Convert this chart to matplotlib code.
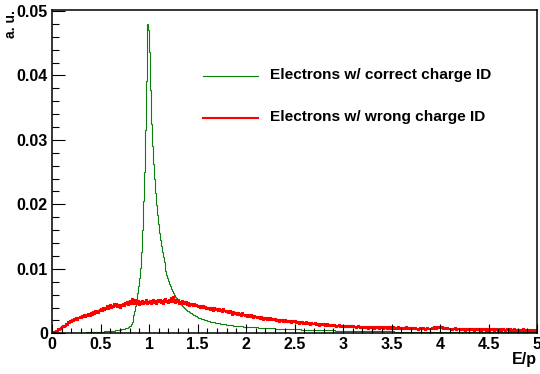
import numpy as np
import matplotlib
matplotlib.use("Agg")
import matplotlib.pyplot as plt
from matplotlib.ticker import MultipleLocator, FuncFormatter

# E/p histograms, 500 bins of width 0.01 from 0 to 5; contents in units of 1e-4
bin_edges = np.linspace(0.0, 5.0, 501)

correct_id = [
    0, 0, 0, 0, 0, 0.1, 0.1, 0.1, 0.1, 0.2,
    0.2, 0.2, 0.3, 0.3, 0.3, 0.4, 0.4, 0.4, 0.5, 0.5,
    0.5, 0.6, 0.6, 0.7, 0.7, 0.8, 0.8, 0.9, 0.9, 1.0,
    1.0, 1.1, 1.1, 1.2, 1.2, 1.3, 1.3, 1.4, 1.5, 1.5,
    1.6, 1.7, 1.7, 1.8, 1.9, 2.0, 2.0, 2.1, 2.2, 2.3,
    2.4, 2.5, 2.6, 2.7, 2.8, 2.9, 3.0, 3.1, 3.3, 3.4,
    3.5, 3.7, 3.8, 4.0, 4.2, 4.4, 4.6, 4.8, 5.0, 5.3,
    5.6, 5.9, 6.3, 6.7, 7.1, 7.6, 8.2, 8.9, 9.7, 10.6,
    12, 14, 17, 21, 28, 35, 43, 52, 62, 73,
    86, 102, 126, 160, 205, 250, 315, 392, 480, 471,
    437, 378, 325, 290, 262, 240, 218, 199, 183, 169,
    156, 145, 135, 126, 118, 110, 103, 97, 91, 86,
    81, 77, 73, 69, 66, 63, 60, 57, 55, 52,
    50, 48, 46, 44, 42, 41, 39, 38, 36, 35,
    34, 33, 32, 31, 30, 29, 28, 27.5, 27, 26,
    25, 24.5, 24, 23, 22.5, 22, 21.5, 21, 20.5, 20,
    19.5, 19, 18.7, 18.3, 18, 17.6, 17.2, 16.9, 16.6, 16.3,
    16, 15.7, 15.4, 15.1, 14.8, 14.6, 14.3, 14.1, 13.9, 13.6,
    13.4, 13.2, 13.0, 12.8, 12.6, 12.4, 12.2, 12.0, 11.9, 11.7,
    11.5, 11.4, 11.2, 11.1, 10.9, 10.8, 10.7, 10.5, 10.4, 10.3,
    10.2, 10.0, 9.9, 9.8, 9.7, 9.6, 9.5, 9.4, 9.3, 9.2,
    9.1, 9.0, 8.9, 8.8, 8.7, 8.6, 8.5, 8.4, 8.4, 8.3,
    8.2, 8.1, 8.0, 8.0, 7.9, 7.8, 7.7, 7.7, 7.6, 7.5,
    7.4, 7.4, 7.3, 7.2, 7.2, 7.1, 7.0, 7.0, 6.9, 6.8,
    6.8, 6.7, 6.7, 6.6, 6.5, 6.5, 6.4, 6.4, 6.3, 6.2,
    6.2, 6.1, 6.1, 6.0, 6.0, 5.9, 5.9, 5.8, 5.8, 5.7,
    5.7, 5.6, 5.6, 5.5, 5.5, 5.4, 5.4, 5.3, 5.3, 5.2,
    5.2, 5.2, 5.1, 5.1, 5.0, 5.0, 4.9, 4.9, 4.9, 4.8,
    4.8, 4.7, 4.7, 4.7, 4.6, 4.6, 4.5, 4.5, 4.5, 4.4,
    4.4, 4.4, 4.3, 4.3, 4.3, 4.2, 4.2, 4.2, 4.1, 4.1,
    4.1, 4.0, 4.0, 4.0, 3.9, 3.9, 3.9, 3.8, 3.8, 3.8,
    3.7, 3.7, 3.7, 3.7, 3.6, 3.6, 3.6, 3.5, 3.5, 3.5,
    3.5, 3.4, 3.4, 3.4, 3.4, 3.3, 3.3, 3.3, 3.3, 3.2,
    3.2, 3.2, 3.2, 3.1, 3.1, 3.1, 3.1, 3.0, 3.0, 3.0,
    3.0, 3.0, 2.9, 2.9, 2.9, 2.9, 2.9, 2.8, 2.8, 2.8,
    2.8, 2.8, 2.8, 2.7, 2.7, 2.7, 2.7, 2.7, 2.7, 2.6,
    2.6, 2.6, 2.6, 2.6, 2.6, 2.6, 2.5, 2.5, 2.5, 2.5,
    2.5, 2.5, 2.5, 2.5, 2.4, 2.4, 2.4, 2.4, 2.4, 2.4,
    2.4, 2.4, 2.4, 2.3, 2.3, 2.3, 2.3, 2.3, 2.3, 2.3,
    2.3, 2.3, 2.3, 2.3, 2.2, 2.2, 2.2, 2.2, 2.2, 2.2,
    2.2, 2.2, 2.2, 2.2, 2.2, 2.1, 2.1, 2.1, 2.1, 2.1,
    2.1, 2.1, 2.1, 2.1, 2.1, 2.1, 2.1, 2.0, 2.0, 2.0,
    2.0, 2.0, 2.0, 2.0, 2.0, 2.0, 2.0, 2.0, 2.0, 2.0,
    1.9, 1.9, 1.9, 1.9, 1.9, 1.9, 1.9, 1.9, 1.9, 1.9,
    1.9, 1.9, 1.9, 1.8, 1.8, 1.8, 1.8, 1.8, 1.8, 1.8,
    1.8, 1.8, 1.8, 1.8, 1.8, 1.8, 1.8, 1.7, 1.7, 1.7,
    1.7, 1.7, 1.7, 1.7, 1.7, 1.7, 1.7, 1.7, 1.7, 1.7,
    1.7, 1.7, 1.6, 1.6, 1.6, 1.6, 1.6, 1.6, 1.6, 1.6,
    1.6, 1.6, 1.6, 1.6, 1.6, 1.6, 1.6, 1.5, 1.5, 1.5,
    1.5, 1.5, 1.5, 1.5, 1.5, 1.5, 1.5, 1.5, 1.5, 1.5,
]

wrong_id = [
    0, 1, 2, 2, 4, 4, 6, 5, 7, 8,
    9, 11, 10, 12, 14, 13, 15, 17, 16, 19,
    18, 20, 19, 22, 21, 23, 20, 24, 23, 25,
    24, 27, 26, 28, 25, 29, 27, 30, 28, 27,
    31, 29, 33, 30, 34, 32, 35, 31, 34, 36,
    33, 37, 35, 39, 36, 40, 37, 42, 38, 41,
    44, 40, 43, 41, 45, 42, 46, 41, 44, 43,
    40, 44, 42, 46, 43, 47, 45, 49, 44, 48,
    50, 46, 53, 47, 49, 45, 51, 48, 46, 50,
    44, 48, 46, 50, 45, 49, 47, 51, 46, 48,
    47, 50, 46, 49, 52, 47, 50, 45, 49, 51,
    48, 52, 47, 50, 46, 51, 49, 53, 48, 50,
    47, 51, 49, 54, 48, 56, 50, 47, 52, 49,
    51, 46, 49, 47, 50, 45, 48, 46, 49, 44,
    47, 43, 46, 44, 45, 42, 46, 43, 44, 42,
    44, 41, 43, 40, 42, 39, 43, 40, 41, 38,
    40, 37, 39, 36, 40, 38, 35, 39, 37, 36,
    38, 35, 37, 34, 36, 33, 37, 34, 35, 33,
    34, 31, 33, 30, 34, 32, 29, 33, 31, 30,
    32, 29, 31, 28, 30, 27, 31, 29, 28, 27,
    29, 26, 28, 27, 25, 28, 26, 24, 27, 25,
    26, 23, 25, 24, 22, 25, 23, 24, 21, 23,
    24, 22, 21, 23, 20, 23, 21, 22, 20, 21,
    22, 19, 21, 20, 18, 21, 19, 20, 18, 19,
    20, 18, 19, 17, 19, 18, 16, 19, 17, 18,
    17, 19, 16, 18, 17, 15, 18, 16, 17, 15,
    16, 15, 17, 14, 16, 15, 13, 16, 14, 15,
    14, 16, 13, 15, 14, 12, 15, 13, 14, 13,
    14, 12, 13, 11, 14, 12, 13, 11, 12, 13,
    11, 13, 12, 10, 12, 11, 13, 10, 12, 11,
    10, 12, 11, 9, 11, 10, 12, 9, 11, 10,
    11, 9, 10, 8, 10, 11, 9, 10, 8, 9,
    10, 8, 9, 10, 8, 9, 7, 9, 8, 10,
    8, 9, 7, 9, 8, 10, 8, 7, 9, 8,
    9, 7, 8, 10, 8, 7, 9, 8, 7, 9,
    8, 7, 9, 8, 6, 8, 7, 9, 8, 7,
    8, 7, 6, 8, 7, 9, 7, 6, 8, 7,
    7, 8, 6, 7, 8, 6, 7, 5, 7, 8,
    6, 7, 8, 6, 7, 5, 7, 8, 6, 7,
    7, 6, 8, 7, 9, 8, 7, 9, 8, 10,
    9, 8, 10, 7, 8, 6, 7, 8, 6, 7,
    6, 7, 5, 7, 6, 8, 6, 5, 7, 6,
    7, 5, 6, 7, 5, 6, 4, 6, 7, 5,
    6, 5, 7, 5, 6, 4, 6, 7, 5, 6,
    5, 6, 4, 6, 5, 7, 5, 4, 6, 5,
    6, 4, 5, 7, 5, 6, 4, 5, 6, 5,
    4, 5, 6, 4, 5, 6, 5, 3, 5, 6,
    5, 4, 6, 5, 4, 5, 6, 4, 5, 4,
    5, 4, 5, 3, 5, 4, 6, 4, 5, 4,
    4, 5, 3, 5, 4, 5, 4, 3, 5, 4,
]

labels = ["Electrons w/ correct charge ID", "Electrons w/ wrong charge ID"]
x_title = "E/p"
y_title = "a. u."

unit = 1e-4
green = "#0b800b"
red = "#ff0000"

plt.rcParams["font.family"] = ["Liberation Sans", "DejaVu Sans"]
plt.rcParams["font.weight"] = "bold"

fig = plt.figure(figsize=(5.40, 3.74), dpi=100)
W, H = 540.0, 374.0
x0, x1, ytop, ybot = 52.0, 537.0, 9.5, 333.3
ax = fig.add_axes([x0 / W, 1 - ybot / H, (x1 - x0) / W, (ybot - ytop) / H])

ax.stairs(np.array(correct_id) * unit, bin_edges, color=green, lw=0.8)
ax.stairs(np.array(wrong_id) * unit, bin_edges, color=red, lw=1.5)

ax.set_xlim(0, 5)
ax.set_ylim(0, 0.05023)

ax.xaxis.set_major_locator(MultipleLocator(0.5))
ax.xaxis.set_minor_locator(MultipleLocator(0.1))
ax.yaxis.set_major_locator(MultipleLocator(0.01))
ax.yaxis.set_minor_locator(MultipleLocator(0.002))
ax.xaxis.set_major_formatter(FuncFormatter(lambda v, p: "%g" % v))
ax.yaxis.set_major_formatter(FuncFormatter(lambda v, p: "0" if abs(v) < 1e-9 else "%.2f" % v))

ax.tick_params(axis="both", which="both", direction="in", width=0.8,
               labelsize=11.5, top=False, right=False)
ax.tick_params(axis="y", which="major", length=9.4, pad=3)
ax.tick_params(axis="y", which="minor", length=4.7)
ax.tick_params(axis="x", which="major", length=6.5, pad=3)
ax.tick_params(axis="x", which="minor", length=3.3)
for lab in ax.get_xticklabels() + ax.get_yticklabels():
    lab.set_fontweight("bold")

for s in ax.spines.values():
    s.set_linewidth(1.1)

# axis titles placed in figure pixels
fig.text(537 / W, 1 - 352 / H, x_title, ha="right", va="top",
         fontsize=11.5, fontweight="bold")
fig.text(11 / W, 1 - 10 / H, y_title, ha="center", va="top", rotation=90,
         fontsize=10, fontweight="bold")


def ax_xy(px, py):
    return (px - x0) / (x1 - x0), (ybot - py) / (ybot - ytop)


for lab, col, lw, py in [(labels[0], green, 0.8, 76.0), (labels[1], red, 1.5, 117.5)]:
    xa, ya = ax_xy(203, py)
    xb, _ = ax_xy(258, py)
    ax.plot([xa, xb], [ya, ya], color=col, lw=lw, transform=ax.transAxes)
    xt, yt = ax_xy(270, py - 1)
    ax.text(xt, yt, lab, transform=ax.transAxes, ha="left", va="center",
            fontsize=11.1, fontweight="bold")

fig.savefig("out.png", dpi=100)
